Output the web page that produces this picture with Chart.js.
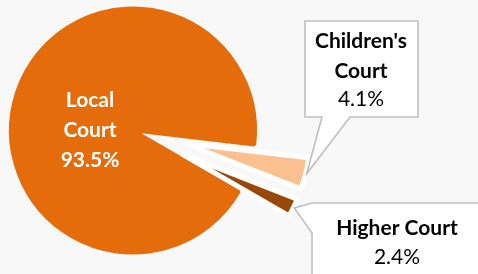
<!DOCTYPE html>
<html><head><meta charset="utf-8">
<script src="https://cdn.jsdelivr.net/npm/chart.js@4.4.0/dist/chart.umd.min.js"></script>
<style>html,body{margin:0;padding:0;background:#F8F8F8;overflow:hidden}#wrap{width:478px;height:274px;position:relative}</style>
</head><body><div id="wrap"><canvas id="c" width="478" height="274"></canvas></div>
<script>
const categories = ["Local Court", "Children's Court", "Higher Court"];
const labelLines = [["Local", "Court"], ["Children's", "Court"], ["Higher Court"]];
const values = [93.5, 4.1, 2.4];
const valueLabels = ["93.5%", "4.1%", "2.4%"];

const FONT = 'Lato, "Open Sans", sans-serif';

const bgPlugin = {
  id: 'bg',
  beforeDraw(chart) {
    const c = chart.ctx;
    c.save();
    c.fillStyle = '#F8F8F8';
    c.fillRect(0, 0, chart.width, chart.height);
    c.restore();
  }
};

// keep exploded slices at the full radius and full angle of the pie
const fixRadius = {
  id: 'fixRadius',
  afterDatasetUpdate(chart, args) {
    args.meta.data.forEach(arc => {
      const o = arc.options || {};
      const off = (o.offset || 0) / 4;
      if (!off) {
        arc.outerRadius -= (o.borderWidth || 0) / 2;
        return;
      }
      const fix = 1 - Math.sin(Math.min(Math.PI, arc.circumference || 0));
      const ro = off * fix;
      const R = arc.outerRadius;
      arc.outerRadius = R - ro;
      const widen = ro / (Math.PI * R) / 2;
      arc.startAngle -= widen;
      arc.endAngle += widen;
    });
  }
};

function slicePoint(arc, extra) {
  const off = (arc.options.offset || 0) / 4;
  const mid = (arc.startAngle + arc.endAngle) / 2;
  const R = arc.outerRadius + off * (1 - Math.sin(Math.min(Math.PI, arc.circumference))) + extra;
  return {
    x: arc.x + Math.cos(mid) * (off + R),
    y: arc.y + Math.sin(mid) * (off + R)
  };
}

const labelPlugin = {
  id: 'labels',
  afterDatasetsDraw(chart) {
    const c = chart.ctx;
    const arcs = chart.getDatasetMeta(0).data;
    c.save();
    c.textAlign = 'center';
    c.textBaseline = 'middle';

    // Local Court label inside the slice
    const a0 = arcs[0];
    const lx = a0.x - 43, ly = a0.y - 0.5;
    c.fillStyle = '#FFFFFF';
    c.font = 'bold 21px ' + FONT;
    c.fillText(labelLines[0][0], lx, ly - 30);
    c.fillText(labelLines[0][1], lx, ly);
    c.fillText(valueLabels[0], lx, ly + 30);

    // Children's Court callout
    const t1 = slicePoint(arcs[1], 1);
    c.beginPath();
    c.moveTo(305, 21); c.lineTo(418, 21); c.lineTo(418, 117);
    c.lineTo(350, 117); c.lineTo(t1.x, t1.y); c.lineTo(322, 117);
    c.lineTo(305, 117); c.closePath();
    c.fillStyle = '#FFFFFF'; c.fill();
    c.strokeStyle = '#BFBFBF'; c.lineWidth = 1.6; c.stroke();
    c.fillStyle = '#000000';
    c.font = 'bold 21px ' + FONT;
    c.fillText(labelLines[1][0], 361, 41);
    c.fillText(labelLines[1][1], 361, 71);
    c.font = '21px ' + FONT;
    c.fillText(valueLabels[1], 361, 99);

    // Higher Court callout
    const t2 = slicePoint(arcs[2], 1);
    c.beginPath();
    c.moveTo(312, 203); c.lineTo(482, 203); c.lineTo(482, 278);
    c.lineTo(312, 278); c.lineTo(312, 233); c.lineTo(t2.x, t2.y);
    c.closePath();
    c.fillStyle = '#FFFFFF'; c.fill();
    c.strokeStyle = '#BFBFBF'; c.lineWidth = 1.6; c.stroke();
    c.fillStyle = '#000000';
    c.font = 'bold 21px ' + FONT;
    c.fillText(labelLines[2][0], 397, 228);
    c.font = '21px ' + FONT;
    c.fillText(valueLabels[2], 397, 257);
    c.restore();
  }
};

new Chart(document.getElementById('c'), {
  type: 'pie',
  data: {
    labels: categories,
    datasets: [{
      data: values,
      backgroundColor: ['#E46C0A', '#FAC090', '#984807'],
      borderColor: ['#E46C0A', '#FFFFFF', '#FFFFFF'],
      borderWidth: [3.7, 5, 5],
      offset: [0, 216, 216],
      hoverOffset: 0
    }]
  },
  options: {
    responsive: false,
    animation: false,
    events: [],
    rotation: 120,
    radius: 124,
    layout: { padding: { left: 0, right: 212, top: 0, bottom: 13 } },
    plugins: { legend: { display: false }, tooltip: { enabled: false } }
  },
  plugins: [bgPlugin, fixRadius, labelPlugin]
});
</script>
</body></html>
